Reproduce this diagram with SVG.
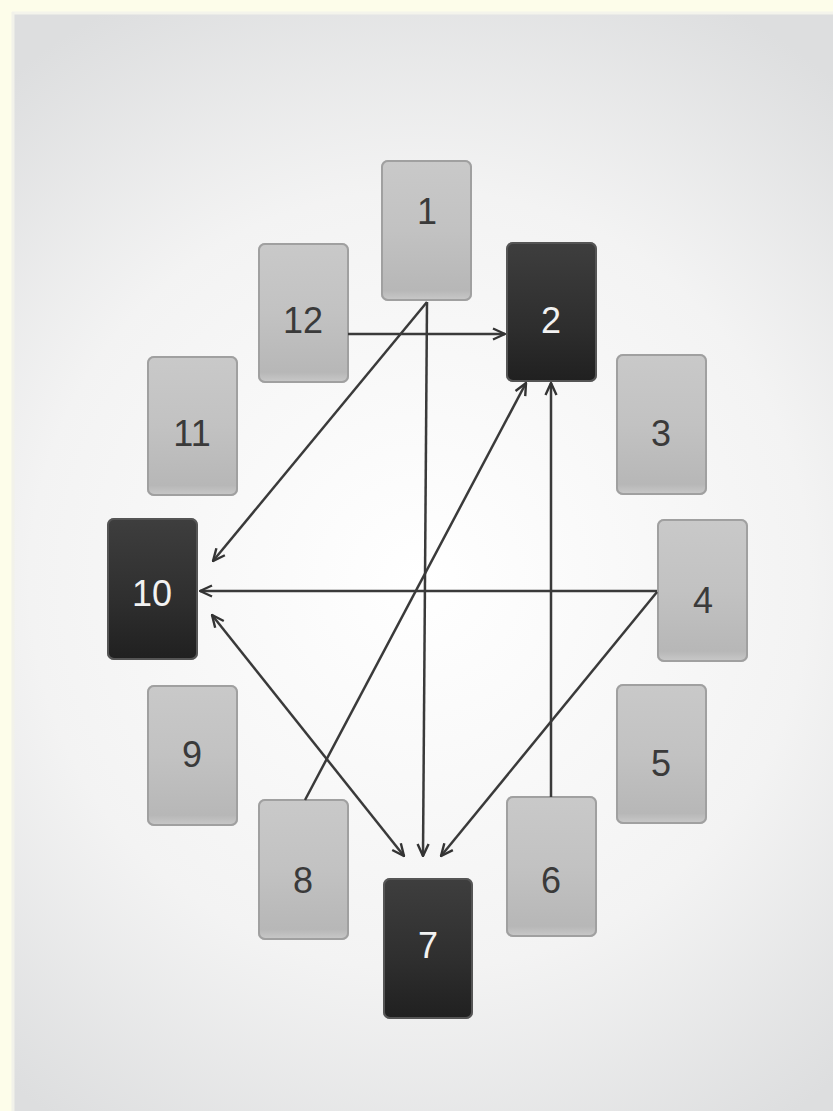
<svg xmlns="http://www.w3.org/2000/svg" width="833" height="1111" viewBox="0 0 833 1111">
<defs>
<radialGradient id="bg" cx="420" cy="580" r="650" gradientUnits="userSpaceOnUse">
<stop offset="0" stop-color="#ffffff"/>
<stop offset="0.6" stop-color="#f3f3f3"/>
<stop offset="1" stop-color="#dddedf"/>
</radialGradient>
<linearGradient id="light" x1="0" y1="0" x2="0" y2="1">
<stop offset="0" stop-color="#c9c9c9"/>
<stop offset="0.5" stop-color="#c2c2c2"/>
<stop offset="0.93" stop-color="#b7b7b7"/>
<stop offset="1" stop-color="#c8c8c8"/>
</linearGradient>
<linearGradient id="dark" x1="0" y1="0" x2="0" y2="1">
<stop offset="0" stop-color="#3e3e3e"/>
<stop offset="0.6" stop-color="#2e2e2e"/>
<stop offset="1" stop-color="#202020"/>
</linearGradient>
<marker id="arr" viewBox="0 0 14 14" refX="13" refY="7" markerWidth="14" markerHeight="14" markerUnits="userSpaceOnUse" orient="auto-start-reverse">
<polyline points="1,1.5 13,7 1,12.5" fill="none" stroke="#333" stroke-width="2.4"/>
</marker>
</defs>
<style>
.lt rect{fill:url(#light);stroke:#a0a0a0;stroke-width:2}
.dk rect{fill:url(#dark);stroke:#555;stroke-width:2}
.glow{fill:none;stroke:#ffffff;stroke-width:6;opacity:0.8}
text{font-family:"Liberation Sans","DejaVu Sans",sans-serif;font-size:36px;text-anchor:middle;dominant-baseline:central}
.lt text{fill:#3a3a3a}
.dk text{fill:#f2f2f2}
#edges line{stroke:#3a3a3a;stroke-width:2.5;fill:none}
</style>
<rect x="0" y="0" width="833" height="1111" fill="#fdfdea"/>
<rect x="12" y="12" width="821" height="1099" fill="url(#bg)"/>
<line x1="12" y1="13" x2="833" y2="13" stroke="#f4f4ec" stroke-width="3"/>
<line x1="13" y1="12" x2="13" y2="1111" stroke="#f2f2ea" stroke-width="3"/>

<g id="n1" class="lt"><rect class="glow" x="382" y="161" width="89" height="139" rx="6"/><rect x="382" y="161" width="89" height="139" rx="6"/><text x="427" y="211">1</text></g>
<g id="n12" class="lt"><rect class="glow" x="259" y="244" width="89" height="138" rx="6"/><rect x="259" y="244" width="89" height="138" rx="6"/><text x="303" y="320">12</text></g>
<g id="n2" class="dk"><rect class="glow" x="507" y="243" width="89" height="138" rx="6"/><rect x="507" y="243" width="89" height="138" rx="6"/><text x="551" y="320">2</text></g>
<g id="n11" class="lt"><rect class="glow" x="148" y="357" width="89" height="138" rx="6"/><rect x="148" y="357" width="89" height="138" rx="6"/><text x="192" y="433">11</text></g>
<g id="n3" class="lt"><rect class="glow" x="617" y="355" width="89" height="139" rx="6"/><rect x="617" y="355" width="89" height="139" rx="6"/><text x="661" y="433">3</text></g>
<g id="n10" class="dk"><rect class="glow" x="108" y="519" width="89" height="140" rx="6"/><rect x="108" y="519" width="89" height="140" rx="6"/><text x="152" y="593">10</text></g>
<g id="n4" class="lt"><rect class="glow" x="658" y="520" width="89" height="141" rx="6"/><rect x="658" y="520" width="89" height="141" rx="6"/><text x="703" y="600">4</text></g>
<g id="n9" class="lt"><rect class="glow" x="148" y="686" width="89" height="139" rx="6"/><rect x="148" y="686" width="89" height="139" rx="6"/><text x="192" y="754">9</text></g>
<g id="n5" class="lt"><rect class="glow" x="617" y="685" width="89" height="138" rx="6"/><rect x="617" y="685" width="89" height="138" rx="6"/><text x="661" y="763">5</text></g>
<g id="n8" class="lt"><rect class="glow" x="259" y="800" width="89" height="139" rx="6"/><rect x="259" y="800" width="89" height="139" rx="6"/><text x="303" y="880">8</text></g>
<g id="n6" class="lt"><rect class="glow" x="507" y="797" width="89" height="139" rx="6"/><rect x="507" y="797" width="89" height="139" rx="6"/><text x="551" y="880">6</text></g>
<g id="n7" class="dk"><rect class="glow" x="384" y="879" width="88" height="139" rx="6"/><rect x="384" y="879" width="88" height="139" rx="6"/><text x="428" y="945">7</text></g>

<g id="edges">
<line x1="348" y1="334" x2="505" y2="334" marker-end="url(#arr)"/>
<line x1="427" y1="302" x2="213" y2="561" marker-end="url(#arr)"/>
<line x1="427" y1="302" x2="423" y2="856" marker-end="url(#arr)"/>
<line x1="305" y1="800" x2="526" y2="383" marker-end="url(#arr)"/>
<line x1="551" y1="797" x2="551" y2="383" marker-end="url(#arr)"/>
<line x1="657" y1="591" x2="200" y2="591" marker-end="url(#arr)"/>
<line x1="657" y1="592" x2="441" y2="856" marker-end="url(#arr)"/>
<line x1="212" y1="615" x2="404" y2="856" marker-start="url(#arr)" marker-end="url(#arr)"/>
</g>
</svg>
